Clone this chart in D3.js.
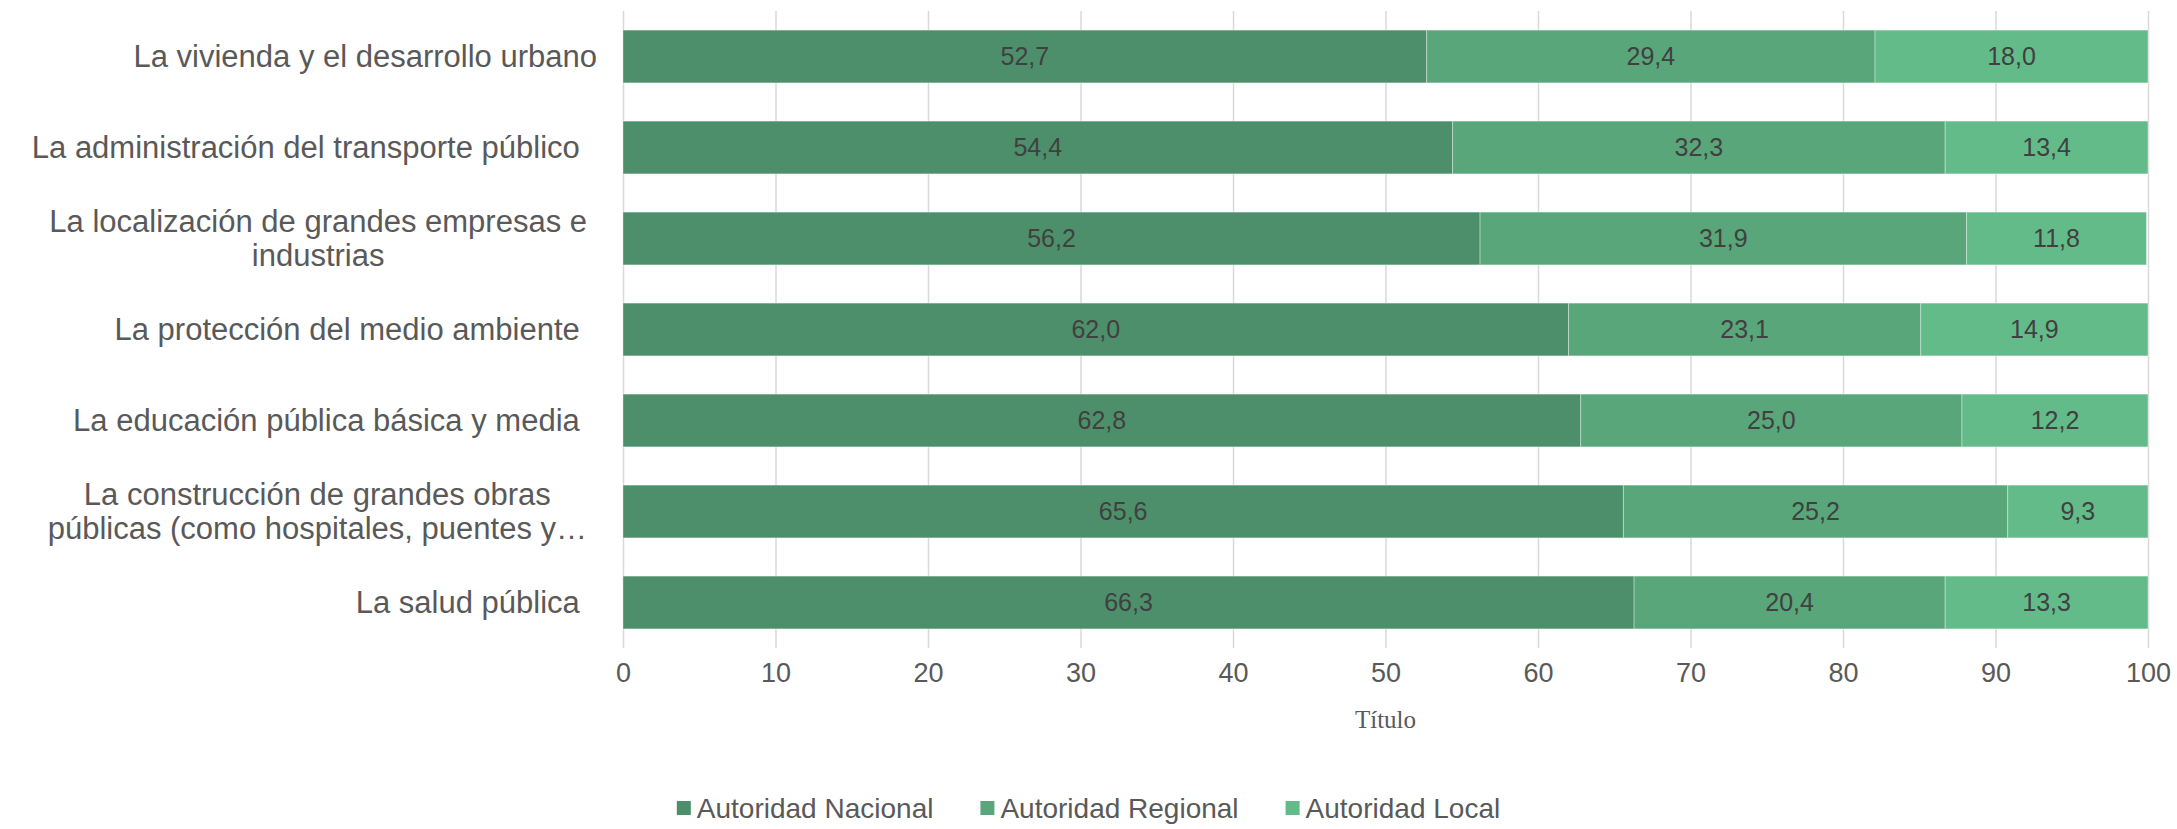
<!DOCTYPE html>
<html>
<head>
<meta charset="utf-8">
<script src="https://cdn.jsdelivr.net/npm/d3@7"></script>
<style>
  body { margin: 0; background: #fff; }
  text { font-family: "Liberation Sans", Arial, sans-serif; }
</style>
</head>
<body>
<div id="chart"></div>
<script>
// categories, top to bottom (lines of each label)
var categories = [
    ["La vivienda y el desarrollo urbano"],
    ["La administración del transporte público  "],
    ["La localización de grandes empresas e", "industrias"],
    ["La protección del medio ambiente  "],
    ["La educación pública básica y media  "],
    ["La construcción de grandes obras", "públicas (como hospitales, puentes y…"],
    ["La salud pública  "]
];
var seriesNames = ["Autoridad Nacional", "Autoridad Regional", "Autoridad Local"];
var nacional = [52.7, 54.4, 56.2, 62.0, 62.8, 65.6, 66.3];
var regional = [29.4, 32.3, 31.9, 23.1, 25.0, 25.2, 20.4];
var local    = [18.0, 13.4, 11.8, 14.9, 12.2, 9.3, 13.3];
var xTicks = [0, 10, 20, 30, 40, 50, 60, 70, 80, 90, 100];
var axisTitle = "Título";

var colors = ["#4d8f6b", "#5aa67b", "#64bb8a"];

var W = 2177, H = 829;
var margin = {top: 11, right: 29, bottom: 181, left: 623};
var width = W - margin.left - margin.right,
    height = H - margin.top - margin.bottom;

var svg = d3.select("#chart").append("svg")
    .attr("width", W)
    .attr("height", H);

var g = svg.append("g")
    .attr("transform", "translate(" + margin.left + "," + margin.top + ")");

var xScale = d3.scaleLinear().domain([0, 100]).range([0, width]).clamp(true);
var yScale = d3.scaleBand()
    .domain(d3.range(categories.length))
    .range([0, height])
    .paddingInner(0.42)
    .paddingOuter(0.21);

// grid lines
var xAxis = d3.axisBottom(xScale)
    .tickValues(xTicks)
    .tickSize(height)
    .tickPadding(14)
    .tickFormat(d3.format("d"));

var xAxisGroup = g.append("g")
    .attr("class", "x axis")
    .call(xAxis);
xAxisGroup.select(".domain").remove();
xAxisGroup.selectAll("line")
    .attr("stroke", "#d9d9d9")
    .attr("stroke-width", 1.5);
xAxisGroup.selectAll("text")
    .attr("fill", "#595959")
    .style("font-size", "27px")
    .attr("dy", "0.75em");

// stacked data
var rows = categories.map(function(c, i) {
    return {i: i, "Autoridad Nacional": nacional[i], "Autoridad Regional": regional[i], "Autoridad Local": local[i]};
});
var stacked = d3.stack().keys(seriesNames)(rows);

var layers = g.selectAll(".layer")
    .data(stacked)
    .enter().append("g")
    .attr("class", "layer")
    .attr("fill", function(d, i) { return colors[i]; });

layers.selectAll("rect")
    .data(function(d) { return d; })
    .enter().append("rect")
    .attr("x", function(d) { return xScale(d[0]); })
    .attr("width", function(d) { return xScale(d[1]) - xScale(d[0]); })
    .attr("y", function(d) { return yScale(d.data.i); })
    .attr("height", yScale.bandwidth())
    .attr("stroke", "rgba(255,255,255,0.35)")
    .attr("stroke-width", 1);

layers.selectAll(".lbl")
    .data(function(d) { return d; })
    .enter().append("text")
    .attr("class", "lbl")
    .attr("x", function(d) { return (xScale(d[0]) + xScale(d[1])) / 2; })
    .attr("y", function(d) { return yScale(d.data.i) + yScale.bandwidth() / 2; })
    .attr("dy", "0.35em")
    .attr("text-anchor", "middle")
    .attr("fill", "#404040")
    .style("font-size", "25px")
    .text(function(d) { return (d[1] - d[0]).toFixed(1).replace(".", ","); });

// category labels
var catGroup = g.append("g").attr("class", "y labels");
var lineH = 34;
categories.forEach(function(lines, i) {
    var cy = yScale(i) + yScale.bandwidth() / 2;
    var t = catGroup.append("text")
        .attr("fill", "#595959")
        .style("font-size", "31px")
        .style("white-space", "pre");
    var spans = lines.map(function(line, k) {
        return t.append("tspan")
            .attr("y", cy + (k - (lines.length - 1) / 2) * lineH)
            .attr("dy", "0.35em")
            .text(line);
    });
    if (lines.length === 1) {
        t.attr("text-anchor", "end");
        spans[0].attr("x", -26);
    } else {
        var maxW = d3.max(spans, function(s) { return s.node().getComputedTextLength(); });
        t.attr("text-anchor", "middle");
        spans.forEach(function(s) { s.attr("x", -36 - maxW / 2); });
    }
});

// axis title
g.append("text")
    .attr("x", width / 2)
    .attr("y", height + 80)
    .attr("text-anchor", "middle")
    .attr("fill", "#595959")
    .style("font-family", "'Liberation Serif', 'Times New Roman', serif")
    .style("font-size", "25px")
    .text(axisTitle);

// legend
var legend = svg.append("g").attr("class", "legend");
var lx = 0;
seriesNames.forEach(function(name, i) {
    var item = legend.append("g").attr("transform", "translate(" + lx + ",0)");
    item.append("rect")
        .attr("x", 0).attr("y", -7)
        .attr("width", 14).attr("height", 14)
        .attr("fill", colors[i]);
    var tx = item.append("text")
        .attr("x", 20)
        .attr("dy", "0.35em")
        .attr("fill", "#595959")
        .style("font-size", "28px")
        .text(name);
    lx += 20 + tx.node().getComputedTextLength() + 47;
});
var legendW = lx - 47;
legend.attr("transform", "translate(" + (W / 2 - legendW / 2) + ",808)");
</script>
</body>
</html>
